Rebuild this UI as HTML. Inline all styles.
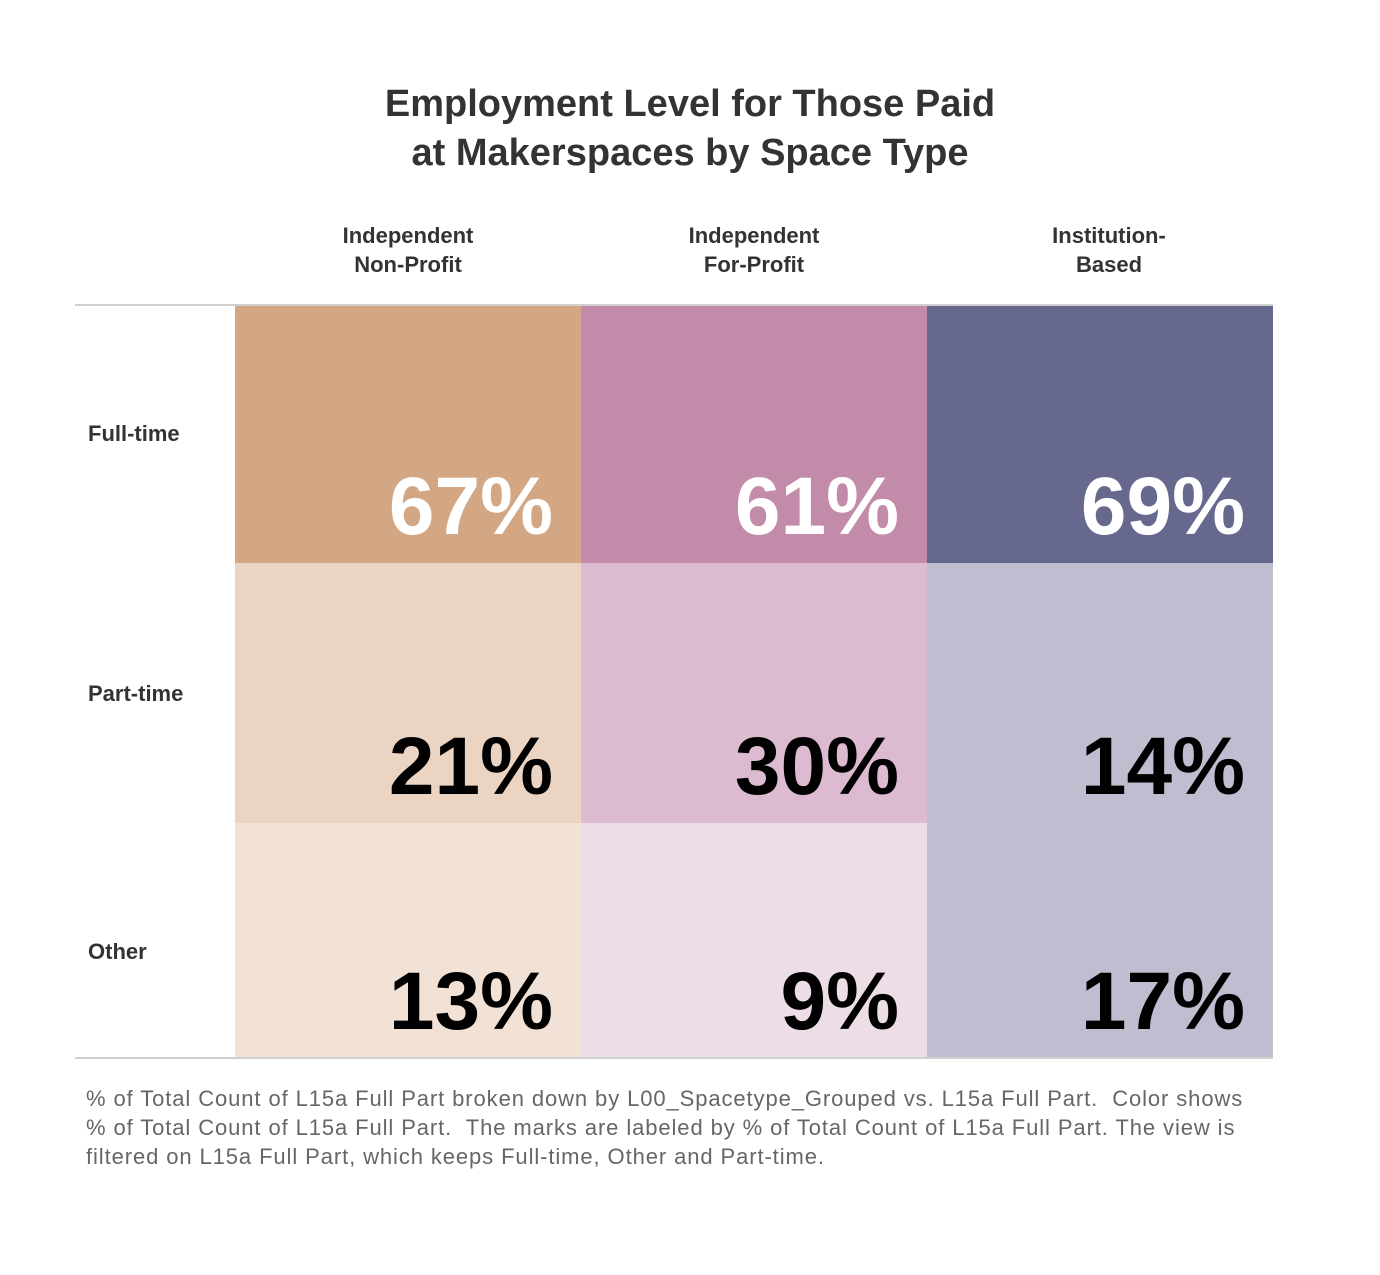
<!DOCTYPE html>
<html><head><meta charset="utf-8"><style>
body{margin:0;background:#fff;font-family:"Liberation Sans",sans-serif;}
#wrap{position:relative;width:1380px;height:1275px;}
.t{position:absolute;}
</style></head><body>
<div id="wrap">
<div class="t" style="left:0;width:1380px;top:80px;text-align:center;font-size:38px;font-weight:bold;color:#333;line-height:49px;">Employment Level for Those Paid<br>at Makerspaces by Space Type</div>
<svg id="svg" width="1380" height="1275" style="position:absolute;left:0;top:0"></svg>
<div class="t" style="left:86px;top:1084px;width:1280px;font-size:22px;color:#666;line-height:29px;white-space:nowrap;letter-spacing:0.9px;">% of Total Count of L15a Full Part broken down by L00_Spacetype_Grouped vs. L15a Full Part.&nbsp; Color shows<br>% of Total Count of L15a Full Part.&nbsp; The marks are labeled by % of Total Count of L15a Full Part. The view is<br>filtered on L15a Full Part, which keeps Full-time, Other and Part-time.</div>
</div>
<script>
const columns=["Independent|Non-Profit","Independent|For-Profit","Institution-|Based"];
const rows=["Full-time","Part-time","Other"];
const values=[[67,61,69],[21,30,14],[13,9,17]];
const colors=[["#d3a784","#c28ba9","#66698d"],["#ecd4c3","#dcbbd0","#bebed0"],["#f2e1d5","#ecdde6","#bebed0"]];
const svg=document.getElementById('svg');
const NS="http://www.w3.org/2000/svg";
const x0=235,cw=346,rowY=[306,563,823,1058];
const labelOff=[135,138,136];
function mk(t,a){const e=document.createElementNS(NS,t);for(const k in a)e.setAttribute(k,a[k]);svg.appendChild(e);return e;}
rows.forEach((r,i)=>{
  const lab=mk('text',{x:88,y:rowY[i]+labelOff[i],'font-size':22,'font-weight':'bold',fill:'#333'});
  lab.textContent=r;
  
  
  columns.forEach((c,j)=>{
    const rc=mk('rect',{x:x0+j*cw,y:rowY[i],width:cw,height:rowY[i+1]-rowY[i],fill:colors[i][j]});
    
    
    const v=mk('text',{x:x0+(j+1)*cw-28,y:rowY[i+1]-29,'font-size':82,'font-weight':'bold','text-anchor':'end',fill:values[i][j]>50?'#fff':'#000'});
    v.textContent=values[i][j]+'%';
    
    
  });
});
columns.forEach((c,j)=>{
  c.split('|').forEach((p,k)=>{
    const h=mk('text',{x:x0+j*cw+cw/2+(j==2?9:0),y:243+k*29,'font-size':22,'font-weight':'bold','text-anchor':'middle',fill:'#333'});
    h.textContent=p;
    
    
  });
});
[305,1058].forEach(y=>{const l=mk('line',{x1:75,x2:1273,y1:y,y2:y,stroke:'#d0d0d0','stroke-width':2});

});
</script>
</body></html>
